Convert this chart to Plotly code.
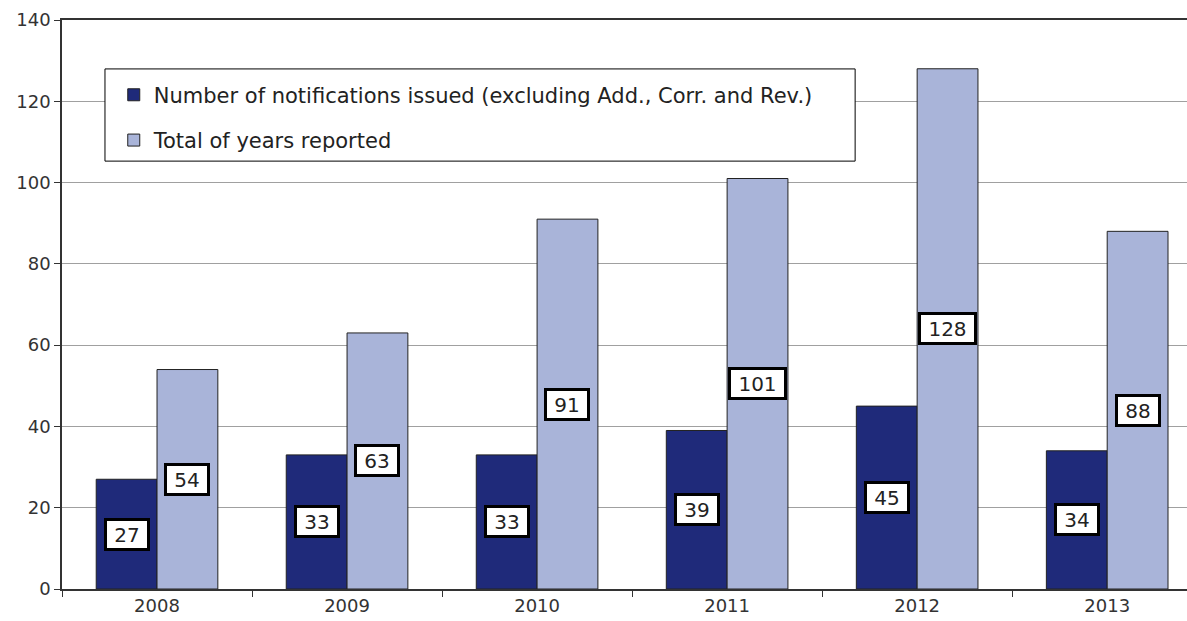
import plotly.graph_objects as go

years = ["2008", "2009", "2010", "2011", "2012", "2013"]
notifications = [27, 33, 33, 39, 45, 34]
years_reported = [54, 63, 91, 101, 128, 88]

NAVY = "#1f2a7a"
LILAC = "#a9b4d9"
FONT = "Verdana, DejaVu Sans, sans-serif"

idx = list(range(len(years)))

fig = go.Figure()
fig.add_trace(go.Bar(
    x=idx, y=notifications,
    name="Number of notifications issued (excluding Add., Corr. and Rev.)",
    marker=dict(color=NAVY, line=dict(color="#222222", width=1)),
    legendgroup="a",
))
fig.add_trace(go.Bar(
    x=idx, y=years_reported,
    name="Total of years reported",
    marker=dict(color=LILAC, line=dict(color="#222222", width=1)),
    legendgroup="b",
))

# boxed value labels in the middle of each bar
off = 0.16
for i in idx:
    for val, dx in ((notifications[i], -off), (years_reported[i], off)):
        txt = str(val)
        fig.add_annotation(
            x=i + dx, y=val / 2, text=txt, showarrow=False,
            font=dict(family=FONT, size=20, color="#222222"),
            width=13 * len(txt) + 12, height=25,
            bgcolor="white", bordercolor="black", borderwidth=3, borderpad=1,
        )

# legend frame (wider than the legend itself, as in the original)
fig.add_shape(type="rect", xref="paper", yref="paper",
              x0=0.0382, x1=0.705, y0=0.752, y1=0.914,
              line=dict(color="black", width=1), fillcolor="white", layer="above")

fig.update_layout(
    width=1187, height=621,
    margin=dict(l=62, r=0, t=20, b=32),
    paper_bgcolor="white", plot_bgcolor="white",
    font=dict(family=FONT, size=17, color="#333333"),
    barmode="group", bargap=0.36, bargroupgap=0,
    hovermode=False,
    legend=dict(
        x=0.046, y=0.904, xanchor="left", yanchor="top",
        bgcolor="rgba(0,0,0,0)", borderwidth=0,
        font=dict(family=FONT, size=21, color="#222222"),
        tracegroupgap=15, traceorder="grouped",
    ),
)
fig.update_xaxes(
    type="category", range=[-0.5, 5.42], tickvals=idx, ticktext=years,
    tickson="boundaries",
    showline=True, linecolor="#333333", linewidth=1.5, mirror=True,
    ticks="outside", ticklen=6, tickcolor="#333333",
    showgrid=False, tickfont=dict(size=18),
)
fig.update_yaxes(
    range=[0, 140], dtick=20, showgrid=True, gridcolor="#a0a0a0", gridwidth=1,
    showline=True, linecolor="#333333", linewidth=1.5,
    ticks="outside", ticklen=6, tickcolor="#333333",
    zeroline=False, tickfont=dict(size=18),
)

# drop the default page margin so the chart sits at the window's top-left
fig.write_html("out.html", config={"displayModeBar": False},
               post_script="document.body.style.margin='0';")
